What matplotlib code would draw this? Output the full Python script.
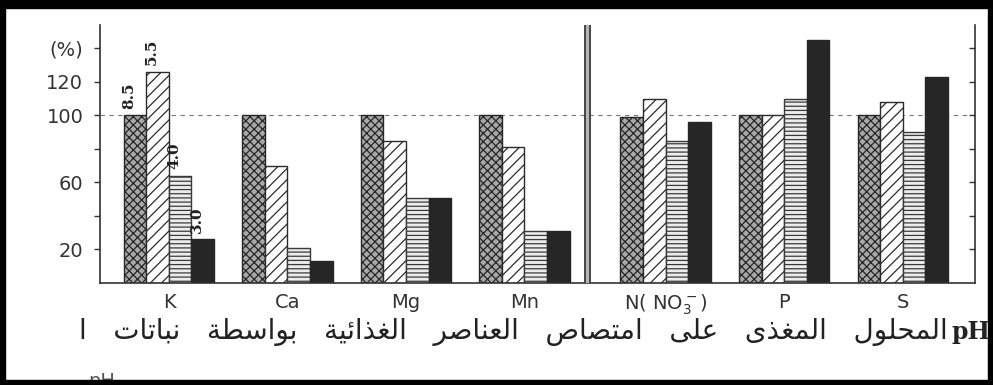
import numpy as np
import matplotlib
matplotlib.use('Agg')
import matplotlib.pyplot as plt
from matplotlib.patches import Rectangle

# nutrient uptake (% of the pH 8.5 value) at four solution pH levels
nutrients = ['K', 'Ca', 'Mg', 'Mn', 'N( NO$_3^-$)', 'P', 'S']
ph_levels = ['8.5', '5.5', '4.0', '3.0']

uptake_ph85 = [100, 100, 100, 100, 99, 100, 100]
uptake_ph55 = [126, 70, 85, 81, 110, 100, 108]
uptake_ph40 = [64, 21, 51, 31, 85, 110, 90]
uptake_ph30 = [26, 13, 51, 31, 96, 145, 123]

y_ticks = [20, 40, 60, 80, 100, 120, 140]
y_ticklabels = ['20', '', '60', '', '100', '120', '(%)']

caption = 'المحلول المغذى على امتصاص العناصر الغذائية بواسطة نباتات ا'

# matplotlib does no Arabic shaping: map letters to presentation forms
# (isolated code point, joins to the following letter)
ARABIC_FORMS = {
    'ا': (0xFE8D, False), 'ب': (0xFE8F, True), 'ة': (0xFE93, False),
    'ت': (0xFE95, True), 'ح': (0xFEA1, True), 'ذ': (0xFEAB, False),
    'ر': (0xFEAD, False), 'س': (0xFEB1, True), 'ص': (0xFEB9, True),
    'ط': (0xFEC1, True), 'ع': (0xFEC9, True), 'غ': (0xFECD, True),
    'ل': (0xFEDD, True), 'م': (0xFEE1, True), 'ن': (0xFEE5, True),
    'و': (0xFEED, False), 'ى': (0xFEEF, False), 'ي': (0xFEF1, True),
    'ئ': (0xFE89, True),
}


def shape_arabic(text):
    out = []
    for i, ch in enumerate(text):
        if ch not in ARABIC_FORMS:
            out.append(ch)
            continue
        base, dual = ARABIC_FORMS[ch]
        prev = text[i - 1] if i > 0 else ''
        nxt = text[i + 1] if i + 1 < len(text) else ''
        join_prev = prev in ARABIC_FORMS and ARABIC_FORMS[prev][1]
        join_next = dual and nxt in ARABIC_FORMS
        if join_prev and join_next:
            code = base + 3
        elif join_prev:
            code = base + 1
        elif join_next:
            code = base + 2
        else:
            code = base
        out.append(chr(code))
    # right-to-left: reverse into visual order
    return ''.join(reversed(out))


plt.rcParams['hatch.linewidth'] = 0.9

fig = plt.figure(figsize=(9.93, 3.85), dpi=100)
ax = fig.add_axes([0.1007, 0.265, 0.881, 0.670])

idx = np.arange(len(nutrients))
x = idx + np.where(idx >= 4, 0.19, 0.0)
w = 0.19

series = [uptake_ph85, uptake_ph55, uptake_ph40, uptake_ph30]
styles = [
    dict(facecolor='#a8a8a8', hatch='xxxx', edgecolor='#262626'),
    dict(facecolor='white', hatch='///', edgecolor='#2b2b2b'),
    dict(facecolor='#ececec', hatch='----', edgecolor='#3a3a3a'),
    dict(facecolor='#262626', edgecolor='#262626'),
]
for k, (vals, st) in enumerate(zip(series, styles)):
    ax.bar(x + (k - 1.5) * w, vals, w, linewidth=1.0, zorder=2, **st)

# pH of each bar, written above the K group
for k, lab in enumerate(ph_levels):
    ax.text(x[0] + (k - 1.5) * w - 0.05, series[k][0] + 4, lab,
            rotation=90, ha='center', va='bottom', fontsize=11,
            fontweight='bold', family='DejaVu Serif', color='#222')

ax.axhline(100, ls=(0, (4, 4)), color='#777', lw=0.8, zorder=1)

# divider between cations and anions
ax.axvline(3.53, color='#444', lw=5, zorder=3)
ax.axvline(3.53, color='#b5b5b5', lw=2.2, zorder=4)

ax.set_xlim(-0.582, 6.80)
ax.set_ylim(0, 154)

for side in ['left', 'right', 'bottom']:
    ax.spines[side].set_linewidth(1.2)
    ax.spines[side].set_color('#333')
ax.spines['top'].set_visible(False)

ax.set_yticks(y_ticks)
ax.set_yticklabels(y_ticklabels)
ax.tick_params(axis='y', direction='out', length=4, width=1, labelsize=14,
               pad=8, colors='#333')
ax.set_xticks(x)
ax.set_xticklabels(nutrients)
ax.tick_params(axis='x', length=0, pad=7, labelsize=14, labelcolor='#333')

ax2 = ax.twinx()
ax2.set_ylim(ax.get_ylim())
ax2.set_yticks(y_ticks)
ax2.tick_params(direction='in', length=4, width=1, labelright=False,
                colors='#333')
for side in ax2.spines:
    ax2.spines[side].set_visible(False)

# caption under the chart, with the wide word spacing of the printed page
caption_text = shape_arabic(caption).replace(' ', '   ')
fig.text(948 / 993, 1 - 332 / 385, caption_text, ha='right',
         va='center', fontsize=20, family='DejaVu Sans', color='#222')
fig.text(951 / 993, 1 - 332 / 385, 'pH', ha='left', va='center',
         fontsize=17, fontweight='bold', family='DejaVu Serif', color='#222')
fig.text(88 / 993, 1 - 372 / 385, 'pH', ha='left', va='top', fontsize=14,
         color='#555')

# black frame around the page
H, W = 385.0, 993.0
for rx, ry, rw, rh in [(0, 1 - 8 / H, 1, 8 / H), (0, 0, 1, 5 / H),
                       (0, 0, 5 / W, 1), (1 - 5 / W, 0, 5 / W, 1)]:
    fig.add_artist(Rectangle((rx, ry), rw, rh, transform=fig.transFigure,
                             color='black', zorder=10))

fig.savefig('out.png', dpi=100)
